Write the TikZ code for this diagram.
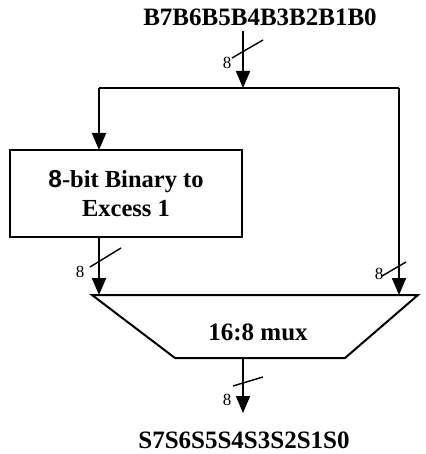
\documentclass[tikz,border=0pt]{standalone}
\usepackage{fontspec}
\setmainfont{Liberation Serif}
\newfontfamily\digitsans{Liberation Sans}
\usetikzlibrary{arrows.meta}
\tikzset{
  wire/.style={line width=2pt},
  arr/.style={wire,-{Triangle[length=17pt,width=14pt]}},
  bus/.style={line width=1.4pt},
  lbl/.style={font=\fontsize{25}{28}\selectfont\bfseries, inner sep=0pt},
  width8/.style={font=\fontsize{17}{19}\selectfont, inner sep=0pt},
  blk/.style={draw, line width=2pt, minimum width=232pt, minimum height=87pt, align=center, font=\fontsize{24.5}{28.5}\selectfont\bfseries}
}
\begin{document}
\begin{tikzpicture}[x=1pt,y=-1pt]
\useasboundingbox (0,0) rectangle (425,454);

% input and output labels
\node[lbl] (in) at (260,17) {B7B6B5B4B3B2B1B0};
\node[lbl] (out) at (244,440) {S7S6S5S4S3S2S1S0};

% converter block
\node[blk] (conv) at (126,193.5) {{\digitsans 8}-bit Binary to\\Excess 1};

% mux trapezoid
\coordinate (mtl) at (92,295);
\coordinate (mtr) at (418,295);
\coordinate (mbr) at (345,358);
\coordinate (mbl) at (175,358);
\draw[wire, line join=miter] (mtl) -- (mtr) -- (mbr) -- (mbl) -- cycle;
\node[lbl] (mux) at (258,332) {16:8 mux};

% wiring points
\coordinate (inA) at (243,31);
\coordinate (inB) at (243,88);
\coordinate (jl) at (99,88);
\coordinate (jr) at (399,88);
\coordinate (cin) at (99,150);
\coordinate (cout) at (99,237);
\coordinate (ml) at (99,295);
\coordinate (mr) at (399,295);
\coordinate (mo) at (243,358);
\coordinate (oe) at (243,413);

% connectors
\draw[arr] (inA) -- (inB);
\draw[wire] (jl) -- (jr);
\draw[arr] (jl) -- (cin);
\draw[arr] (cout) -- (ml);
\draw[arr] (jr) -- (mr);
\draw[arr] (mo) -- (oe);

% bus-width slashes
\coordinate (s1a) at (232,58);  \coordinate (s1b) at (263,40);
\coordinate (s2a) at (90,267);  \coordinate (s2b) at (121,248);
\coordinate (s3a) at (382,276); \coordinate (s3b) at (406,262);
\coordinate (s4a) at (233,386); \coordinate (s4b) at (263,377);
\draw[bus] (s1a) -- (s1b);
\draw[bus] (s2a) -- (s2b);
\draw[bus] (s3a) -- (s3b);
\draw[bus] (s4a) -- (s4b);
\node[width8] (w1) at (227,63) {8};
\node[width8] (w2) at (80,272) {8};
\node[width8] (w3) at (379,274) {8};
\node[width8] (w4) at (227,400) {8};
\end{tikzpicture}
\end{document}
